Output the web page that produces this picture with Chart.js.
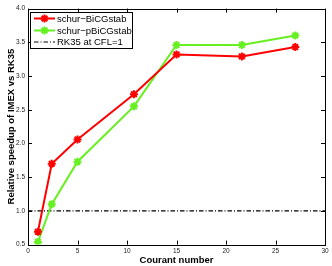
<!DOCTYPE html>
<html>
<head>
<meta charset="utf-8">
<script src="https://cdn.jsdelivr.net/npm/chart.js@4"></script>
<style>
  html, body { margin: 0; padding: 0; background: #fff; }
  #wrap { width: 332px; height: 266px; position: relative; }
</style>
</head>
<body>
<div id="wrap"><canvas id="myChart1" width="332" height="266"></canvas></div>
<script>
// dados
const courant = [1, 2.4, 5, 10.7, 15, 21.6, 27];
const bicgstab = [0.69, 1.70, 2.06, 2.73, 3.32, 3.29, 3.43];
const pbicgstab = [0.54, 1.10, 1.73, 2.55, 3.46, 3.46, 3.60];
const rk35 = [1, 1];
const xTicks = [0, 5, 10, 15, 20, 25, 30];
const yTicks = [0.5, 1, 1.5, 2, 2.5, 3, 3.5, 4];
const labels = ['schur\u2212BiCGstab', 'schur\u2212pBiCGstab', 'RK35 at CFL=1'];

const vermelho = '#ff0000';
const verde = '#66f020';

function pontos(xs, ys) {
  return xs.map((x, i) => ({ x: x, y: ys[i] }));
}

// caixa + ticks para dentro (estilo matlab)
const moldura = {
  id: 'moldura',
  afterDatasetsDraw(chart) {
    const ctx = chart.ctx;
    const a = chart.chartArea;
    const sx = chart.scales.x, sy = chart.scales.y;
    ctx.save();
    ctx.strokeStyle = '#000';
    ctx.lineWidth = 1;
    ctx.beginPath();
    xTicks.forEach(v => {
      const px = Math.round(sx.getPixelForValue(v)) + 0.5;
      ctx.moveTo(px, a.bottom); ctx.lineTo(px, a.bottom - 4);
      ctx.moveTo(px, a.top); ctx.lineTo(px, a.top + 4);
    });
    yTicks.forEach(v => {
      const py = Math.round(sy.getPixelForValue(v)) + 0.5;
      ctx.moveTo(a.left, py); ctx.lineTo(a.left + 4, py);
      ctx.moveTo(a.right, py); ctx.lineTo(a.right - 4, py);
    });
    ctx.stroke();
    ctx.strokeRect(Math.round(a.left) + 0.5, Math.round(a.top) + 0.5,
      Math.round(a.right - a.left), Math.round(a.bottom - a.top));
    ctx.restore();
  }
};

// legenda dentro do grafico
const legenda = {
  id: 'legenda',
  afterDraw(chart) {
    const ctx = chart.ctx;
    const x0 = 30.5, y0 = 12.5, w = 102, h = 36;
    ctx.save();
    ctx.fillStyle = '#fff';
    ctx.fillRect(x0, y0, w, h);
    ctx.strokeStyle = '#000';
    ctx.lineWidth = 1;
    ctx.strokeRect(x0, y0, w, h);
    const linhas = [18.5, 30.5, 42];
    const cores = [vermelho, verde, '#000'];
    linhas.forEach((ly, i) => {
      ctx.strokeStyle = cores[i];
      ctx.lineWidth = i < 2 ? 2 : 1.2;
      ctx.setLineDash(i < 2 ? [] : [4.5, 2, 1, 2]);
      ctx.beginPath();
      ctx.moveTo(34, ly); ctx.lineTo(55, ly);
      ctx.stroke();
      ctx.setLineDash([]);
      if (i < 2) {
        ctx.lineWidth = 2;
        const r = 4;
        ctx.beginPath();
        for (let k = 0; k < 4; k++) {
          const ang = k * Math.PI / 4;
          ctx.moveTo(44.5 + r * Math.cos(ang), ly + r * Math.sin(ang));
          ctx.lineTo(44.5 - r * Math.cos(ang), ly - r * Math.sin(ang));
        }
        ctx.stroke();
      }
      ctx.fillStyle = '#000';
      ctx.font = '9.5px "Liberation Sans", Arial, sans-serif';
      ctx.textBaseline = 'middle';
      ctx.fillText(labels[i], 57, ly + 0.5);
    });
    ctx.restore();
  }
};

const config = {
  type: 'line',
  data: {
    datasets: [{
      label: labels[0],
      data: pontos(courant, bicgstab),
      borderColor: vermelho,
      backgroundColor: vermelho,
      borderWidth: 2,
      pointStyle: 'star',
      pointRadius: 4,
      pointBorderWidth: 2,
      pointBorderColor: vermelho,
      tension: 0
    }, {
      label: labels[1],
      data: pontos(courant, pbicgstab),
      borderColor: verde,
      backgroundColor: verde,
      borderWidth: 2,
      pointStyle: 'star',
      pointRadius: 4,
      pointBorderWidth: 2,
      pointBorderColor: verde,
      tension: 0
    }, {
      label: labels[2],
      data: pontos([xTicks[0], xTicks[xTicks.length - 1]], rk35),
      borderColor: '#000',
      borderWidth: 1.3,
      borderDash: [4.5, 2, 1, 2],
      pointRadius: 0,
      tension: 0
    }]
  },
  options: {
    responsive: false,
    animation: false,
    layout: { padding: { top: 8.6, right: 7, left: 0, bottom: 0 } },
    plugins: {
      legend: { display: false },
      tooltip: { enabled: false }
    },
    scales: {
      x: {
        type: 'linear',
        min: 0, max: 30,
        afterBuildTicks: s => { s.ticks = xTicks.map(v => ({ value: v })); },
        afterFit: s => { s.height = 21.4; },
        grid: { display: true, drawOnChartArea: false, drawTicks: false },
        border: { display: false },
        ticks: { color: '#222', font: { size: 6.5, family: '"Liberation Sans", Arial' }, padding: 3, maxRotation: 0 },
        title: {
          display: true, text: 'Courant number', color: '#000',
          font: { size: 9.5, weight: 'bold', family: '"Liberation Sans", Arial' },
          padding: { top: 0, bottom: 0 }
        }
      },
      y: {
        type: 'linear',
        min: 0.5, max: 4,
        afterBuildTicks: s => { s.ticks = yTicks.map(v => ({ value: v })); },
        afterFit: s => { s.width = 28; },
        grid: { display: true, drawOnChartArea: false, drawTicks: false },
        border: { display: false },
        ticks: { color: '#222', font: { size: 6.5, family: '"Liberation Sans", Arial' }, padding: 3 },
        title: {
          display: true, text: 'Relative speedup of IMEX vs RK35', color: '#000',
          font: { size: 9.5, weight: 'bold', family: '"Liberation Sans", Arial' },
          padding: { top: 6, bottom: 0 }
        }
      }
    }
  },
  plugins: [moldura, legenda]
};

const myChart1 = new Chart(document.getElementById('myChart1'), config);
</script>
</body>
</html>
